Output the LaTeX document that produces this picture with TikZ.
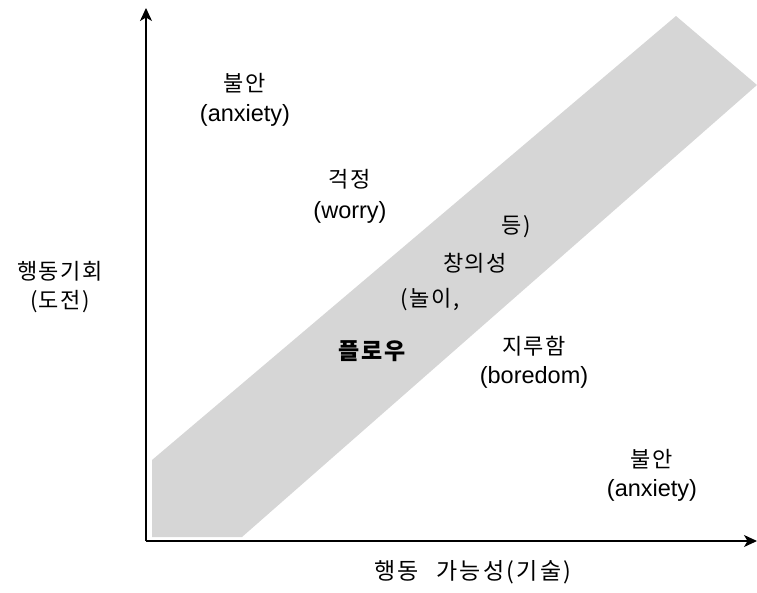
\documentclass[tikz,border=0pt]{standalone}
\usepackage{fontspec}
\setmainfont{Liberation Sans}
\newfontfamily\krfont[LetterSpace=7]{Noto Sans CJK KR}
\newfontfamily\krwide[LetterSpace=10]{Noto Sans CJK KR}
\usetikzlibrary{arrows.meta}
\definecolor{bandgray}{RGB}{214,214,214}
\begin{document}
\begin{tikzpicture}[x=1pt,y=-1pt,
  lbl/.style={font=\fontsize{23.5}{26}\selectfont, inner sep=0pt},
  kr/.style={font=\krfont\fontsize{22}{26}\selectfont, inner sep=0pt},
  krb/.style={font=\krfont\bfseries\fontsize{23}{26}\selectfont, inner sep=0pt},
  axis/.style={line width=1.2pt, -{Stealth[length=13pt,width=12pt,inset=3.5pt]}}]
\useasboundingbox (0,0) rectangle (757,592);
% flow band
\fill[bandgray] (152,537) -- (152,460) -- (676,16) -- (757,85) -- (242,537) -- cycle;
% axes
\coordinate (o) at (146,541);
\coordinate (ytip) at (146,8);
\coordinate (xtip) at (757,541);
\draw[axis] (o) -- (ytip);
\draw[axis] (o) -- (xtip);
% labels
\node[kr] (anx1k) at (245,83) {불안};
\node[lbl] (anx1e) at (245,115) {(anxiety)};
\node[kr] (work) at (350,179) {걱정};
\node[lbl] (wore) at (350,212) {(worry)};
\node[kr] (deung) at (516,227) {등)};
\node[kr] (chang) at (475,263) {창의성};
\node[kr] (nori) at (430,300) {(놀이,};
\node[krb] (flow) at (372,351) {플로우};
\node[kr] (bork) at (534,346) {지루함};
\node[lbl] (bore) at (534,377) {(boredom)};
\node[kr] (anx2k) at (652,459) {불안};
\node[lbl] (anx2e) at (652,490) {(anxiety)};
\node[kr] (ylab1) at (60,271) {행동기회};
\node[kr] (ylab2) at (60,302) {(도전)};
\node[inner sep=0pt, font=\krwide\fontsize{23}{26}\selectfont] (xlab) at (473,572) {행동\hspace{0.75em}가능성(기술)};
\end{tikzpicture}
\end{document}
